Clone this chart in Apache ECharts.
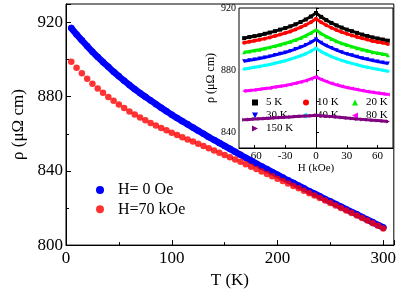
<!DOCTYPE html>
<html>
<head>
<meta charset="utf-8">
<script src="https://cdn.jsdelivr.net/npm/echarts@6/dist/echarts.min.js"></script>
<style>html,body{margin:0;padding:0;background:#fff;}#c{width:399px;height:294px;}</style>
</head>
<body>
<div id="c"></div>
<script>
// ---- main panel data ----
const temps = [5,10,15,20,25,30,35,40,45,50,55,60,65,70,75,80,85,90,95,100,105,110,115,120,125,130,135,140,145,150,155,160,165,170,175,180,185,190,195,200,205,210,215,220,225,230,235,240,245,250,255,260,265,270,275,280,285,290,295,300];
const rhoH0 = [917.0,913.6,910.4,907.3,904.3,901.4,898.7,896.1,893.5,891.0,888.6,886.3,884.1,882.0,880.0,878.0,876.0,874.1,872.2,870.3,868.5,866.8,865.1,863.4,861.7,860.0,858.3,856.7,855.1,853.5,851.9,850.3,848.7,847.1,845.5,843.9,842.4,840.9,839.4,837.9,836.4,834.9,833.5,832.0,830.6,829.1,827.7,826.3,824.8,823.5,822.1,820.7,819.3,817.9,816.6,815.1,813.7,812.3,810.9,809.5];
const rhoH70 = [898.9,895.6,892.6,889.7,887.0,884.5,882.1,879.9,877.8,875.8,873.9,872.1,870.4,868.8,867.3,865.9,864.5,863.2,861.9,860.6,859.4,858.2,857.0,855.8,854.6,853.4,852.2,851.0,849.8,848.6,847.4,846.2,844.9,843.6,842.3,841.0,839.7,838.4,837.1,835.8,834.5,833.2,831.9,830.6,829.3,828.0,826.7,825.4,824.0,822.7,821.4,820.0,818.7,817.3,816.0,814.6,813.2,811.8,810.4,809.0];
const mainSeriesNames = ['H= 0 Oe','H=70 kOe'];
const mainXTicks = [0,100,200,300];
const mainYTicks = [800,840,880,920];

// ---- inset data ----
const fields = [-70,-65,-60,-55,-50,-45,-40,-35,-30,-25,-20,-15,-10,-5,0,5,10,15,20,25,30,35,40,45,50,55,60,65,70];
const r5K   = [900.6,901.3,901.9,902.5,903.4,904.2,905.1,906.1,907.1,908.2,909.5,911.0,912.6,914.5,916.8,914.3,912.2,910.4,908.8,907.4,906.1,905.1,904.0,902.9,902.0,901.1,900.4,899.7,899.0];
const r10K  = [897.7,898.3,898.9,899.6,900.3,901.1,902.0,902.9,903.9,904.9,906.2,907.6,909.1,910.9,913.1,910.8,908.9,907.3,905.8,904.5,903.4,902.4,901.4,900.5,899.7,898.8,898.2,897.6,896.9];
const r20K  = [891.5,892.1,892.7,893.2,894.0,894.7,895.5,896.4,897.3,898.3,899.4,900.7,902.2,903.9,905.9,903.6,901.7,900.1,898.6,897.3,896.2,895.2,894.2,893.3,892.5,891.6,891.0,890.4,889.7];
const r30K  = [885.8,886.4,886.9,887.5,888.2,888.9,889.8,890.6,891.4,892.4,893.6,894.8,896.2,897.9,899.9,897.7,895.8,894.3,892.9,891.6,890.5,889.6,888.7,887.7,887.0,886.2,885.6,884.9,884.3];
const r40K  = [880.8,881.3,881.9,882.4,883.1,883.7,884.5,885.3,886.1,887.1,888.1,889.3,890.6,892.2,894.1,892.0,890.3,888.8,887.5,886.3,885.3,884.4,883.5,882.6,881.9,881.2,880.6,880.0,879.4];
const r80K  = [866.6,867.0,867.3,867.7,868.2,868.6,869.2,869.7,870.2,870.9,871.6,872.4,873.3,874.4,875.7,874.1,872.8,871.6,870.6,869.7,868.9,868.2,867.6,866.9,866.3,865.8,865.3,864.9,864.4];
const r150K = [848.2,848.4,848.6,848.8,849.0,849.2,849.4,849.6,849.8,850.0,850.2,850.4,850.6,850.8,851.0,850.7,850.4,850.2,849.9,849.6,849.3,849.0,848.7,848.4,848.1,847.9,847.6,847.4,847.1];
const insetNames = ['5 K','10 K','20 K','30 K','40 K','80 K','150 K'];
const insetXTicks = [-60,-30,0,30,60];
const insetYTicks = [840,880,920];
const insetYAllTicks = [840,860,880,900,920];

const insetValues = [r5K,r10K,r20K,r30K,r40K,r80K,r150K];
const insetColors = ['#000000','#ff0000','#00ee00','#0000ff','#00ffff','#ff00ff','#800080'];
const insetSymbols = ['rect','circle','triangle','path://M0,0L10,0L5,10Z','diamond','path://M10,0L10,10L0,5Z','path://M0,0L10,5L0,10Z'];
// legend columns of the inset
const insetLegendCols = [['5 K','30 K','150 K'],['10 K','40 K'],['20 K','80 K']];

const FONT = '"Liberation Serif","Times New Roman",serif';
const pair = (xs, ys) => xs.map((x, i) => [x, ys[i]]);

const chart = echarts.init(document.getElementById('c'), null, {renderer:'canvas'});

const series = [
  {
    name: mainSeriesNames[0], type: 'line', xAxisIndex: 0, yAxisIndex: 0,
    data: pair(temps, rhoH0), smooth: true, showSymbol: true, symbol: 'circle', symbolSize: 6.5,
    itemStyle: {color: '#0000ff'}, lineStyle: {color: '#0000ff', width: 6.5, cap: 'round'}, z: 2
  },
  {
    name: mainSeriesNames[1], type: 'scatter', xAxisIndex: 0, yAxisIndex: 0,
    data: pair(temps, rhoH70), symbol: 'circle', symbolSize: 6.5,
    itemStyle: {color: '#ff0000'}, z: 3
  }
];
insetNames.forEach((n, i) => {
  const s = {
    name: n, type: 'line', xAxisIndex: 1, yAxisIndex: 1,
    data: pair(fields, insetValues[i]), showSymbol: true, symbol: insetSymbols[i], symbolSize: 4,
    itemStyle: {color: insetColors[i]}, lineStyle: {color: insetColors[i], width: 3}, z: 4
  };
  if (i === 0) {
    s.markLine = {silent: true, symbol: 'none', label: {show: false},
      lineStyle: {color: '#000', width: 1, type: 'solid'}, data: [{xAxis: 0}], z: 3};
  }
  series.push(s);
});

const colLeft = [247, 298, 347];
const insetLegends = insetLegendCols.map((names, c) => ({
  orient: 'vertical', left: colLeft[c], top: 92, itemWidth: 6, itemHeight: 6, itemGap: 2,
  data: names.map(n => ({name: n, icon: insetSymbols[insetNames.indexOf(n)]})),
  textStyle: {fontFamily: FONT, fontSize: 11, lineHeight: 11, color: '#000', padding: [0,0,0,3]},
  selectedMode: false
}));

chart.setOption({
  animation: false,
  backgroundColor: '#fff',
  grid: [
    {left: 66, top: 4, width: 331, height: 246, show: true, backgroundColor: '#fff', borderColor: '#000', borderWidth: 1},
    {left: 239, top: 8, width: 154, height: 140, show: true, backgroundColor: '#fff', borderColor: '#000', borderWidth: 1}
  ],
  legend: [
    {orient: 'vertical', left: 91, top: 177, itemWidth: 8, itemHeight: 8, itemGap: 3.3,
     data: mainSeriesNames.map(n => ({name: n, icon: 'circle'})),
     textStyle: {fontFamily: FONT, fontSize: 16, lineHeight: 16, color: '#000', padding: [0,0,0,9]},
     selectedMode: false}
  ].concat(insetLegends),
  xAxis: [
    {type: 'value', gridIndex: 0, min: 0, max: 310, interval: 100,
     axisLine: {show: true, lineStyle: {color: '#000', width: 1}},
     axisTick: {show: true, inside: true, length: 5, lineStyle: {color: '#000'}},
     minorTick: {show: true, splitNumber: 2, length: 3, lineStyle: {color: '#000'}},
     splitLine: {show: false},
     axisLabel: {customValues: mainXTicks, margin: 5, fontFamily: FONT, fontSize: 17, color: '#000'},
     name: 'T (K)', nameLocation: 'middle', nameGap: 24,
     nameTextStyle: {fontFamily: FONT, fontSize: 17, color: '#000'}},
    {type: 'value', gridIndex: 1, min: -75, max: 75,
     axisLine: {show: true, lineStyle: {color: '#000', width: 1}},
     axisTick: {show: true, inside: true, length: 3, customValues: insetXTicks, lineStyle: {color: '#000'}},
     splitLine: {show: false},
     axisLabel: {customValues: insetXTicks, margin: 3, hideOverlap: false, fontFamily: FONT, fontSize: 11, color: '#000'},
     name: 'H (kOe)', nameLocation: 'middle', nameGap: 15,
     nameTextStyle: {fontFamily: FONT, fontSize: 11, color: '#000'}}
  ],
  yAxis: [
    {type: 'value', gridIndex: 0, min: 800, max: 930, interval: 40,
     axisLine: {show: true, lineStyle: {color: '#000', width: 1}},
     axisTick: {show: true, inside: true, length: 5, lineStyle: {color: '#000'}},
     minorTick: {show: true, splitNumber: 2, length: 3, lineStyle: {color: '#000'}},
     splitLine: {show: false},
     axisLabel: {customValues: mainYTicks, margin: 3, fontFamily: FONT, fontSize: 17, color: '#000'},
     name: 'ρ (μΩ cm)', nameLocation: 'middle', nameGap: 38, nameRotate: 90,
     nameTextStyle: {fontFamily: FONT, fontSize: 17, color: '#000'}},
    {type: 'value', gridIndex: 1, min: 830, max: 920,
     axisLine: {show: true, lineStyle: {color: '#000', width: 1}},
     axisTick: {show: true, inside: true, length: 3, customValues: insetYAllTicks, lineStyle: {color: '#000'}},
     splitLine: {show: false},
     axisLabel: {customValues: insetYTicks, margin: 3, fontFamily: FONT, fontSize: 10, color: '#000'},
     name: 'ρ (μΩ cm)', nameLocation: 'middle', nameGap: 21, nameRotate: 90,
     nameTextStyle: {fontFamily: FONT, fontSize: 12, color: '#000'}}
  ],
  series: series
});
</script>
</body>
</html>
